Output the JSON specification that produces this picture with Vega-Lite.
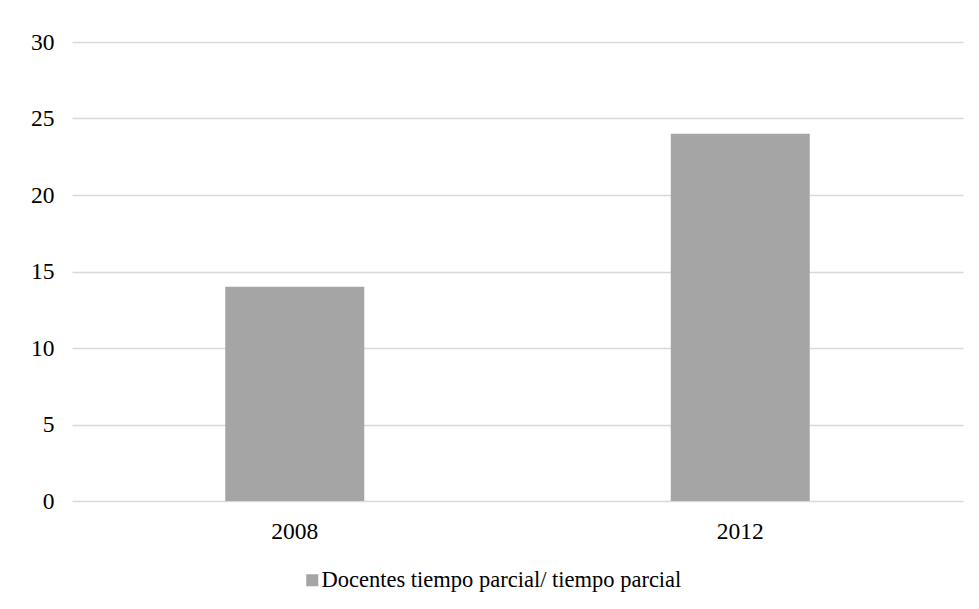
{
  "$schema": "https://vega.github.io/schema/vega-lite/v6.json",
  "width": 891,
  "height": 459,
  "autosize": {"type": "none"},
  "padding": {"left": 72, "top": 42, "right": 16, "bottom": 108},
  "background": "white",
  "config": {
    "view": {"stroke": null},
    "font": "Liberation Serif"
  },
  "data": {
    "values": [
      {"year": "2008", "value": 14, "serie": "Docentes tiempo parcial/ tiempo parcial"},
      {"year": "2012", "value": 24, "serie": "Docentes tiempo parcial/ tiempo parcial"}
    ]
  },
  "mark": {"type": "bar", "size": 139},
  "encoding": {
    "x": {
      "field": "year",
      "type": "nominal",
      "scale": {"paddingInner": 0, "paddingOuter": 0},
      "axis": {
        "title": null,
        "labelAngle": 0,
        "ticks": false,
        "domain": false,
        "labelFont": "Liberation Serif",
        "labelFontSize": 23.5,
        "labelColor": "#000000",
        "labelPadding": 18
      }
    },
    "y": {
      "field": "value",
      "type": "quantitative",
      "scale": {"domain": [0, 30]},
      "axis": {
        "title": null,
        "values": [0, 5, 10, 15, 20, 25, 30],
        "ticks": false,
        "domain": false,
        "gridColor": "#d9d9d9",
        "gridWidth": 1.5,
        "labelFont": "Liberation Serif",
        "labelFontSize": 23.5,
        "labelColor": "#000000",
        "labelPadding": 18
      }
    },
    "color": {
      "field": "serie",
      "type": "nominal",
      "scale": {"range": ["#a5a5a5"]},
      "legend": {
        "title": null,
        "orient": "none",
        "legendX": 229,
        "legendY": 527,
        "symbolType": "square",
        "symbolSize": 144,
        "symbolStrokeWidth": 0,
        "labelFont": "Liberation Serif",
        "labelFontSize": 22.5,
        "labelColor": "#000000",
        "labelOffset": -2,
        "labelLimit": 0
      }
    }
  }
}
